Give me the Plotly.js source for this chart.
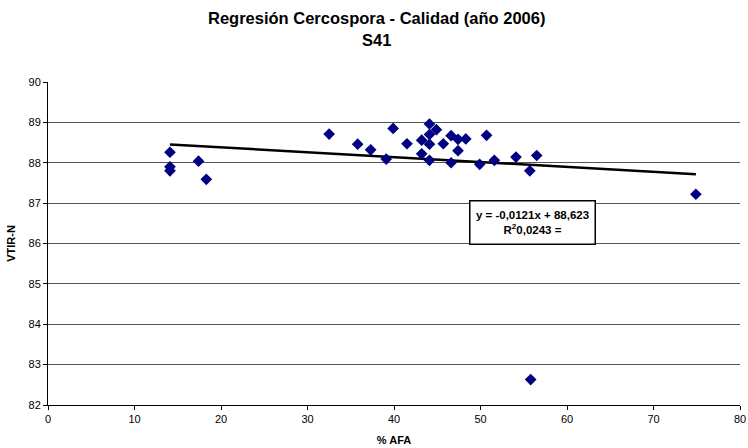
<!DOCTYPE html>
<html>
<head>
<meta charset="utf-8">
<script src="https://cdn.plot.ly/plotly-3.0.1.min.js"></script>
<style>body{margin:0;padding:0;background:#fff;} #chart{width:748px;height:448px;}</style>
</head>
<body>
<div id="chart"></div>
<script>
const afa = [14.1, 14.1, 14.1, 17.4, 18.3, 32.5, 35.8, 37.3, 39.1, 39.9, 41.5, 43.2, 43.2, 44.1, 44.1, 44.1, 44.1, 44.9, 45.7, 46.6, 46.6, 47.4, 47.4, 48.3, 49.9, 50.7, 51.6, 54.1, 55.7, 56.5, 55.8, 74.9];
const vtir = [88.26, 87.90, 87.80, 88.04, 87.59, 88.71, 88.46, 88.32, 88.09, 88.85, 88.47, 88.56, 88.22, 88.96, 88.70, 88.46, 88.06, 88.82, 88.47, 88.67, 88.00, 88.58, 88.30, 88.59, 87.96, 88.68, 88.06, 88.14, 87.80, 88.18, 82.63, 87.22];
const slope = -0.0121;
const intercept = 88.623;
const titleLines = ["Regresión Cercospora - Calidad (año 2006)", "S41"];
const eqLabel = "y = -0,0121x + 88,623<br>R<sup>2</sup>0,0243 =";
const xTicks = [0, 10, 20, 30, 40, 50, 60, 70, 80];
const yTicks = [82, 83, 84, 85, 86, 87, 88, 89, 90];

const xMin = Math.min(...afa), xMax = Math.max(...afa);
const trendX = [xMin, xMax];
const trendY = trendX.map(x => slope * x + intercept);

const font = "Liberation Sans, Arial, sans-serif";
const data = [
  {x: trendX, y: trendY, type: 'scatter', mode: 'lines', line: {color: '#000', width: 2.5}, hoverinfo: 'skip'},
  {x: afa, y: vtir, type: 'scatter', mode: 'markers', marker: {symbol: 'diamond', color: '#000080', size: 9}}
];
const layout = {
  width: 748, height: 448,
  margin: {l: 48, r: 8, t: 82, b: 43},
  paper_bgcolor: '#fff', plot_bgcolor: '#fff',
  showlegend: false,
  xaxis: {range: [0, 80], tickvals: xTicks, ticks: 'outside', ticklen: 4, tickcolor: '#000', showgrid: false, zeroline: false, showline: true, linecolor: '#000', linewidth: 1, tickfont: {family: font, size: 11, color: '#000'},
    title: {text: '<b>% AFA</b>', font: {family: font, size: 11, color: '#000'}, standoff: 12}},
  yaxis: {range: [82, 90], tickvals: yTicks, ticks: 'outside', ticklen: 4, tickcolor: '#000', showgrid: true, gridcolor: '#555', gridwidth: 1, zeroline: false, showline: true, linecolor: '#000', linewidth: 1, tickfont: {family: font, size: 11, color: '#000'},
    title: {text: '<b>VTIR-N</b>', font: {family: font, size: 11, color: '#000'}, standoff: 10}},
  annotations: [
    {x: 0.474, y: 1.198, xref: 'paper', yref: 'paper', showarrow: false, xanchor: 'center', yanchor: 'middle',
     text: '<b>' + titleLines[0] + '</b>', font: {family: font, size: 16.5, color: '#000'}},
    {x: 0.474, y: 1.130, xref: 'paper', yref: 'paper', showarrow: false, xanchor: 'center', yanchor: 'middle',
     text: '<b>' + titleLines[1] + '</b>', font: {family: font, size: 16.5, color: '#000'}},
    {x: 56.05, y: 86.51, xref: 'x', yref: 'y', showarrow: false,
     text: '<b>' + eqLabel + '</b>', align: 'center',
     font: {family: font, size: 11.5, color: '#000'},
     bgcolor: '#fff', bordercolor: '#000', borderwidth: 1.5, borderpad: 3,
     width: 118, height: 36}
  ]
};
Plotly.newPlot('chart', data, layout, {staticPlot: true, displayModeBar: false});
</script>
</body>
</html>
